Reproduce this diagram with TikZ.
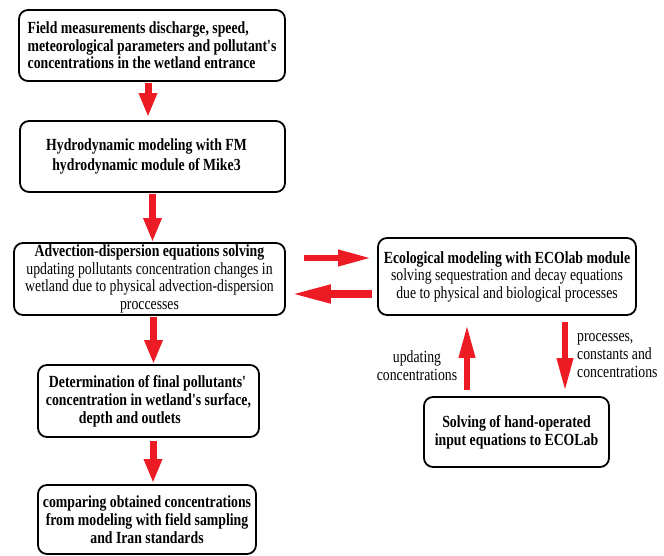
\documentclass[tikz,border=0pt]{standalone}
\usepackage{fontspec}
\setmainfont{Liberation Serif}[FakeStretch=0.81,Ligatures=TeXOff]
\usetikzlibrary{arrows.meta}
\definecolor{arrred}{RGB}{237,28,36}
\begin{document}
\begin{tikzpicture}[x=1pt,y=-1pt,
  box/.style={draw=black,line width=1.8pt,rounded corners=9pt,fill=white,inner sep=0pt,
    font=\fontsize{17}{17.5}\selectfont,align=center},
  fatv/.style={draw=arrred,line width=7pt,-{Triangle[length=24pt,width=17pt]}},
  fatl/.style={draw=arrred,line width=6.5pt,-{Triangle[length=34pt,width=15pt]}},
  lbl/.style={inner sep=0pt,font=\fontsize{17}{17.8}\selectfont}]
\useasboundingbox (0,0) rectangle (664,556);
\node[box,minimum width=266pt,minimum height=71pt,align=left] (b1) at (152,45.5)
  {\bfseries Field measurements discharge, speed,\\\bfseries meteorological parameters and pollutant's\\\bfseries concentrations in the wetland entrance};
\node[box,minimum width=265pt,minimum height=71pt,font=\fontsize{17}{20}\selectfont\bfseries] (b2) at (152.5,156.5)
  {Hydrodynamic modeling with FM\hspace*{12pt}\\hydrodynamic module of Mike3\hspace*{12pt}};
\node[box,minimum width=271pt,minimum height=72pt] (b3) at (149.5,279)
  {\textbf{Advection-dispersion equations solving}\\updating pollutants concentration changes in\\wetland due to physical advection-dispersion\\proccesses};
\node[box,minimum width=258pt,minimum height=77pt] (b4) at (507,276.5)
  {\textbf{Ecological modeling with ECOlab module}\\solving sequestration and decay equations\\due to physical and biological processes};
\node[box,minimum width=185pt,minimum height=70pt,font=\fontsize{17}{18}\selectfont\bfseries] (b5) at (516.5,432)
  {Solving of hand-operated\\input equations to ECOLab};
\node[box,minimum width=221pt,minimum height=72pt,align=left,font=\fontsize{17}{18}\selectfont\bfseries] (b6) at (148.5,401)
  {\hspace*{3pt}Determination of final pollutants'\\concentration in wetland's surface,\\\hspace*{33pt}depth and outlets};
\node[box,minimum width=218pt,minimum height=69pt,font=\fontsize{17}{18}\selectfont\bfseries] (b7) at (147,519.5)
  {comparing obtained concentrations\\from modeling with field sampling\\and Iran standards};
\node[lbl,align=center] (l1) at (417,366) {updating\\concentrations};
\node[lbl,align=left,anchor=west] (l2) at (577,355.5) {processes,\\constants and\\concentrations};
\draw[fatv,shorten <=1pt,shorten >=3pt] ([xshift=-4pt]b1.south) -- ([xshift=-4pt]b1.south |- b2.north);
\draw[fatv,shorten <=1pt,shorten >=0pt] (b2.south) -- (b2.south |- b3.north);
\draw[fatv,shorten <=1pt,shorten >=0pt] ([xshift=4pt]b3.south) -- ([xshift=4pt]b3.south |- b6.north);
\draw[fatv,shorten <=3pt,shorten >=1pt] ([xshift=4.5pt]b6.south) -- ([xshift=4.5pt]b6.south |- b7.north);
\draw[fatl,shorten <=18pt,shorten >=5pt] ([yshift=21pt]b3.east) -- ([yshift=21pt]b3.east -| b4.west);
\draw[fatl,line width=7.5pt,{Triangle[length=40pt,width=17pt]}-,shorten <=5pt,shorten >=5pt] ([yshift=-15pt]b3.east) -- ([yshift=-15pt]b3.east -| b4.west);
\draw[fatl,shorten <=6pt,shorten >=8pt] ([xshift=-49.5pt]b5.north) -- ([xshift=-49.5pt]b5.north |- b4.south);
\draw[fatl,shorten <=6pt,shorten >=4pt] ([xshift=48.5pt]b5.north |- b4.south) -- ([xshift=48.5pt]b5.north);
\end{tikzpicture}
\end{document}
